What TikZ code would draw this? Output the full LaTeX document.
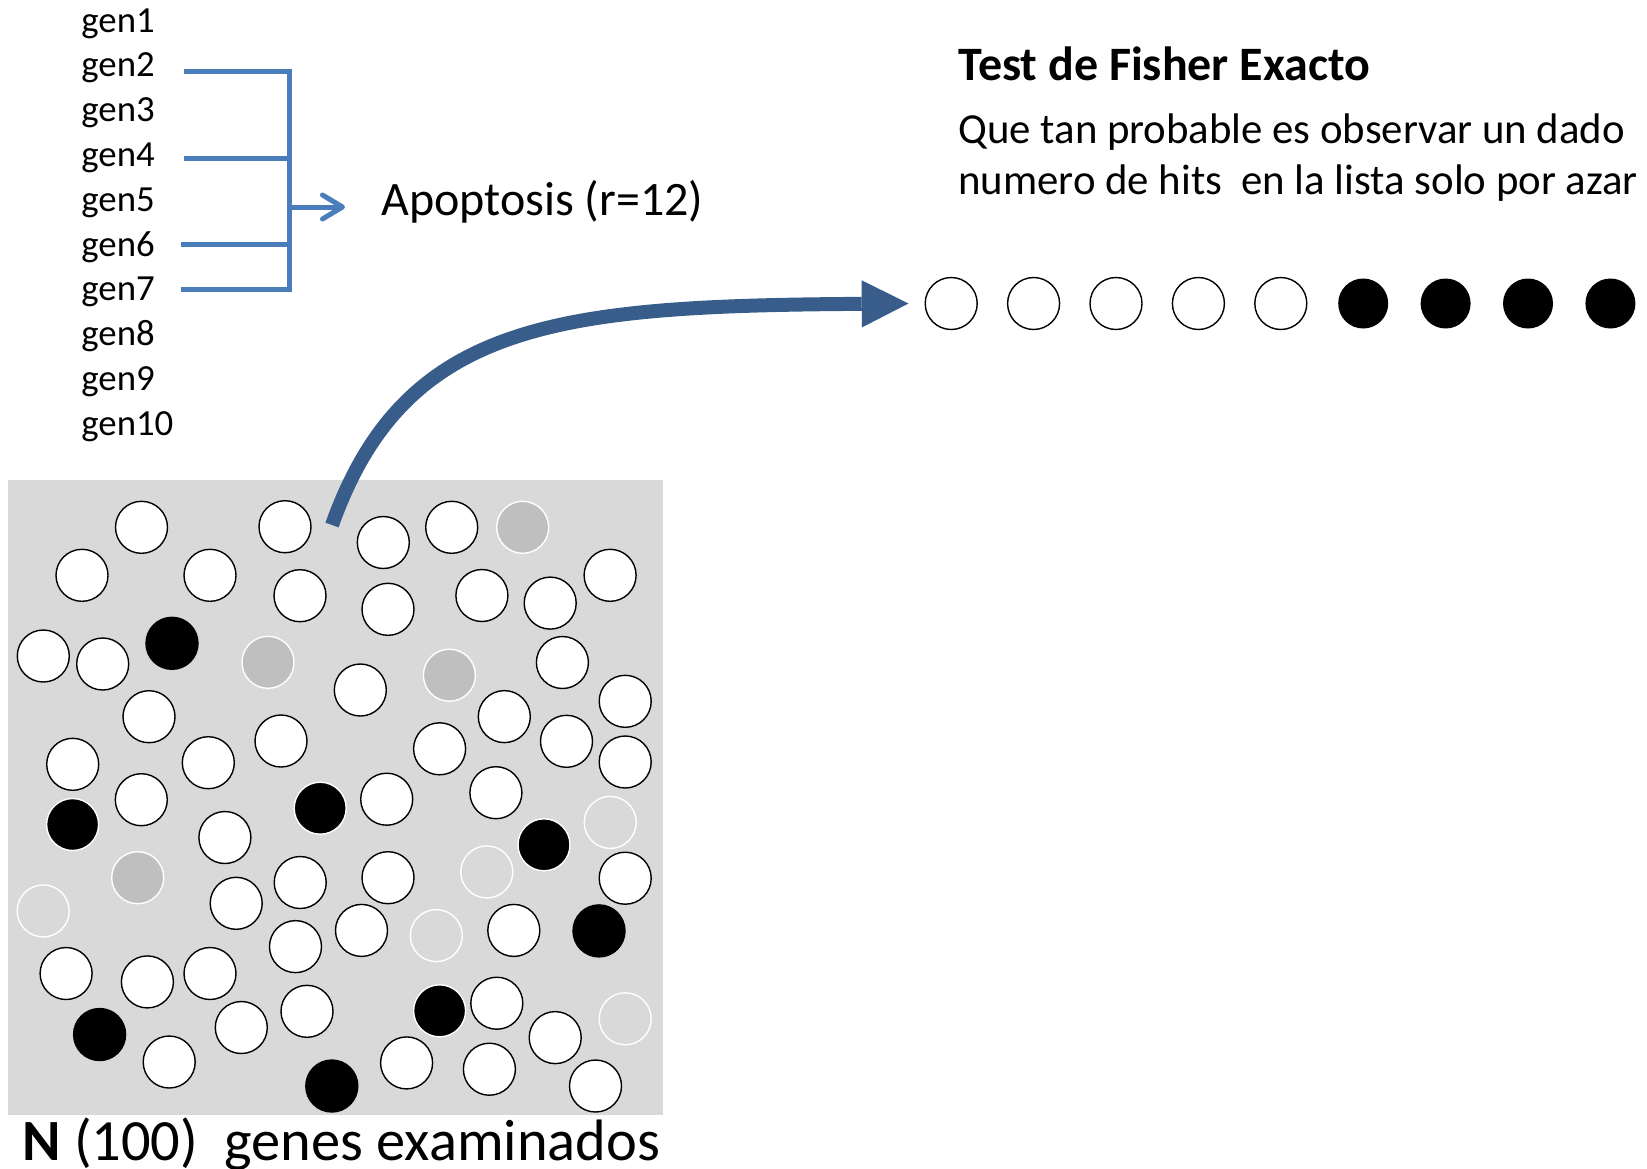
\documentclass[tikz,border=0pt]{standalone}
\usepackage{fontspec}
\setmainfont{Carlito}
\usetikzlibrary{arrows.meta}
\definecolor{bracketblue}{HTML}{4A7EBB}
\definecolor{bigblue}{HTML}{385D8A}
\definecolor{boxgray}{HTML}{D9D9D9}
\definecolor{ballgray}{HTML}{BFBFBF}
\begin{document}
\begin{tikzpicture}[x=0.5pt,y=-0.5pt,
  ball/.style={circle,inner sep=0pt,minimum size=26pt,line width=0.7pt},
  wball/.style={ball,draw=black,fill=white},
  gball/.style={ball,draw=white,fill=ballgray},
  eball/.style={ball,draw=white},
  kball/.style={ball,fill=black,minimum size=26.7pt},
  kwball/.style={ball,fill=black,draw=white},
  rkball/.style={ball,fill=black,minimum size=25pt},
  genlabel/.style={anchor=base west,inner sep=0pt,font=\fontsize{18.4}{21}\selectfont},
  txt/.style={anchor=base west,inner sep=0pt},
  brk/.style={draw=bracketblue,line width=2.5pt}
]
\useasboundingbox (0,0) rectangle (1647,1168);
% grey field
\node[rectangle,fill=boxgray,inner sep=0pt,minimum width=327.2pt,minimum height=317.5pt] (box) at (335.5,797.5) {};
% gene list
\foreach \i in {1,...,10}
  \node[genlabel] (g\i) at (81,{32+44.8*(\i-1)}) {gen\i};
% bracket
\coordinate (b2) at (183.8,71.5);
\coordinate (b4) at (183.8,158.8);
\coordinate (b6) at (181,244);
\coordinate (b7) at (181,289);
\coordinate (vt) at (289.5,71.5);
\coordinate (vb) at (289.5,289);
\coordinate (am) at (289.5,207);
\draw[brk] (b2) -- (vt) -- (vb) -- (b7);
\draw[brk] (b4) -- (b4 -| vt);
\draw[brk] (b6) -- (b6 -| vt);
\node[txt,font=\fontsize{24}{28}\selectfont] (apo) at (381,215) {Apoptosis (r=12)};
\coordinate (atip2) at (345,207);
\draw[brk,-{Straight Barb[length=10pt,width=12pt,round]}] (am) -- (atip2);
% Fisher text
\node[txt,font=\bfseries\fontsize{24}{28}\selectfont] (title) at (958,80) {Test de Fisher Exacto};
\node[txt,font=\fontsize{21.4}{25}\selectfont] (q1) at (958,143.7) {Que tan probable es observar un dado};
\node[txt,font=\fontsize{21.4}{25}\selectfont] (q2) at (958,194.5) {numero de hits\ \ en la lista solo por azar};
% row of hits
\foreach \x/\s [count=\k] in {951.2/wball,1033.6/wball,1116/wball,1198.4/wball,1280.8/wball,1363.2/rkball,1445.6/rkball,1528/rkball,1610.4/rkball}
  \node[\s] (r\k) at (\x,303.5) {};
% balls in field
\foreach \x/\y/\s [count=\i] in {
141.5/527.3/wball, 285/526.7/wball, 383.3/542.5/wball, 451.7/527.3/wball, 522.7/527.3/gball,
82/575.3/wball, 210/575.3/wball, 300/595.7/wball, 388/609.3/wball, 481.9/595.5/wball,
550.2/603.1/wball, 610.1/575.3/wball, 43.3/656/wball, 102.7/664/wball, 172/643.3/kball,
268/662.3/gball, 360.3/690/wball, 449.4/675.2/gball, 562.4/662.5/wball, 625.2/701.3/wball,
149/716.7/wball, 504.3/716.6/wball, 72.7/764.3/wball, 208.3/762.7/wball, 281/741/wball,
439.6/748.8/wball, 566.5/741.3/wball, 625.2/762/wball, 72.6/824.5/kwball, 141.3/799.7/wball,
320.2/808.2/kwball, 386.7/799.2/wball, 495.9/792.7/wball, 610.2/822.4/eball, 224.9/837.5/wball,
544/844.8/kwball, 137.7/877.7/gball, 300.2/882.5/wball, 388/877.7/wball, 486.8/871.9/eball,
625.2/878.2/wball, 43.2/910.9/eball, 236.2/903.3/wball, 361.5/930.4/wball, 436.3/935.6/eball,
513.8/930.4/wball, 599/930.9/kball, 66.1/973.5/wball, 147.4/981.9/wball, 210/973.5/wball,
295.5/946.6/wball, 439.6/1010.8/kwball, 496.8/1003.2/wball, 625.2/1018.8/eball, 99.6/1034.5/kball,
241.3/1027.5/wball, 307/1011.3/wball, 555.2/1037.6/wball, 169.2/1062/wball, 331.8/1086/kball,
406.6/1062.9/wball, 489.4/1069.2/wball, 595.5/1086/wball}
  \node[\s] (c\i) at (\x,\y) {};
% big arrow
\coordinate (as) at (332,525);
\coordinate (atip) at ([xshift=-8pt]r1.west);
\draw[bigblue,line width=7pt,-{Triangle[length=23.4pt,width=23.6pt,line width=0pt]}]
  (as) .. controls (405,320) and (560,306) .. (atip);
% caption
\node[txt,font=\fontsize{29.2}{34}\selectfont] (cap) at (22,1160) {\textbf{N} (100)\ \ genes examinados};
\end{tikzpicture}
\end{document}
